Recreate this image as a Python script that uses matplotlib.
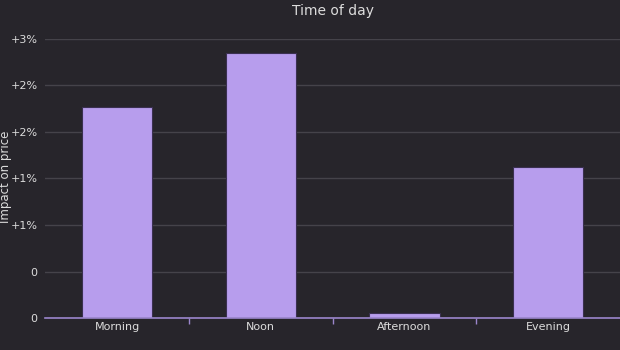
import numpy as np
import matplotlib
matplotlib.use("Agg")
from matplotlib import pyplot as plt

# data (percent)
periods = ["Morning", "Noon", "Afternoon", "Evening"]
impact = [2.27, 2.85, 0.05, 1.62]
tick_vals = [0, 0.5, 1, 1.5, 2, 2.5, 3]
tick_labels = ["0", "0", "+1%", "+1%", "+2%", "+2%", "+3%"]

bg = "#27252b"
bar_col = "#b79ded"
txt = "#dcdcdc"

fig = plt.figure(figsize=(6.2, 3.5), dpi=100, facecolor=bg)
ax = fig.add_axes([0.073, 0.0914, 0.927, 0.7972], facecolor=bg)

x = np.arange(len(periods))
ax.bar(x, impact, width=0.49, color=bar_col, edgecolor="#3a3050", linewidth=0.8, zorder=3)

ax.set_xlim(-0.5, 3.5)
ax.set_ylim(0, 3)
ax.set_yticks(tick_vals)
ax.set_yticklabels(tick_labels)
ax.set_xticks(x)
ax.set_xticklabels(periods)
ax.set_xticks([0.5, 1.5, 2.5], minor=True)

ax.grid(axis="y", color="#45434a", linewidth=1, zorder=0)
for s in ["top", "right", "left"]:
    ax.spines[s].set_visible(False)
ax.spines["bottom"].set_color("#9b86cc")
ax.spines["bottom"].set_linewidth(1.2)
ax.spines["bottom"].set_zorder(4)

ax.tick_params(axis="y", length=0, pad=5.5, labelcolor=txt, labelsize=8)
ax.tick_params(axis="x", which="major", length=0, pad=3, labelcolor=txt, labelsize=8)
ax.tick_params(axis="x", which="minor", length=4, color="#9b86cc", width=1)

fig.text(0.009, 0.494, "Impact on price", color=txt, fontsize=8.5,
         rotation=90, ha="center", va="center")
ax.set_title("Time of day", color=txt, fontsize=10, pad=17)

fig.savefig("out.png", dpi=100, facecolor=bg)
